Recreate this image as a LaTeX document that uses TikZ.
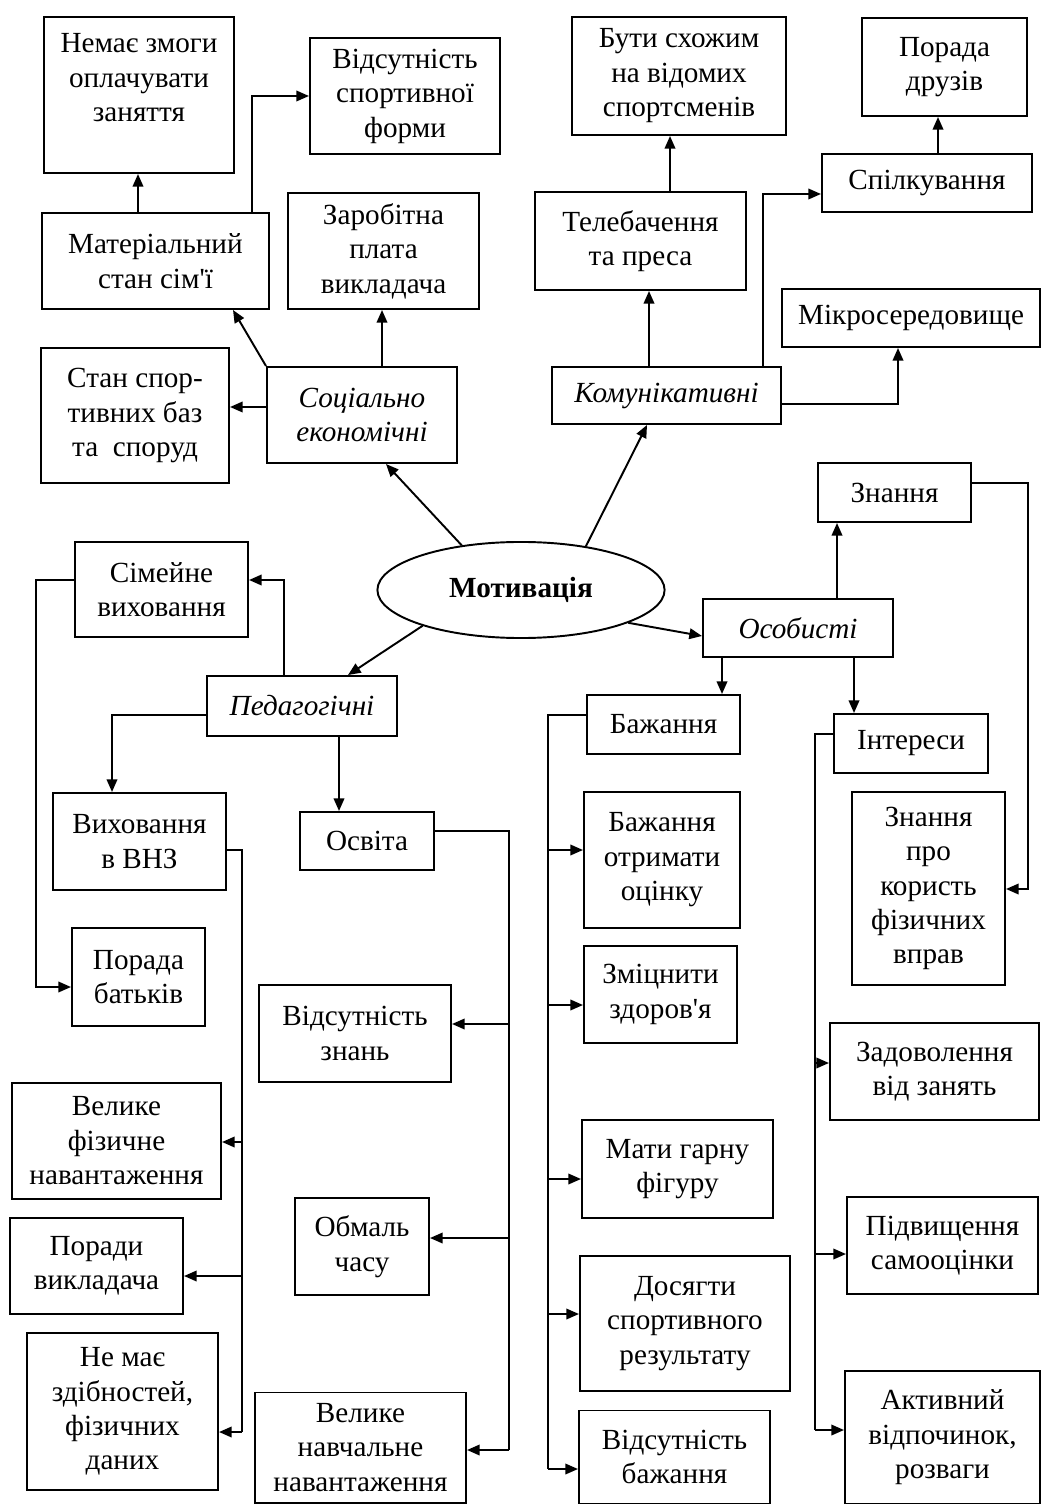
\documentclass[tikz,border=0pt]{standalone}
\usepackage{fontspec}
\setmainfont{Liberation Serif}[Ligatures=TeXOff]
\usetikzlibrary{arrows.meta,shapes.geometric}
\begin{document}
\begin{tikzpicture}[>={Triangle[length=3.6pt,width=3pt]},x=0.01cm,y=-0.01cm,line width=0.55pt,
	box/.style={draw,align=center,inner sep=0pt,font=\fontsize{8.3}{9.8}\selectfont},
	group/.style={box,font=\fontsize{8.3}{9.8}\selectfont\itshape}]
	\useasboundingbox (0,0) rectangle (1041,1504);
	% centre
	\node[draw,ellipse,inner sep=0pt,minimum width=2.87cm,minimum height=0.96cm,font=\fontsize{8.3}{9.8}\selectfont\bfseries] (mot) at (521,590) {Мотивація};
	% groups
	\node[group,minimum width=1.90cm,minimum height=0.96cm] (soc) at (362,415) {Соціально\\економічні};
	\node[group,minimum width=2.29cm,minimum height=0.57cm] (kom) at (666.5,395.5) {Комунікативні};
	\node[group,minimum width=1.90cm,minimum height=0.60cm] (ped) at (302,706) {Педагогічні};
	\node[group,minimum width=1.90cm,minimum height=0.58cm] (osob) at (798,628) {Особисті};
	% socio-economic
	\node[box,minimum width=1.90cm,minimum height=1.56cm] (nem) at (139,95) {Немає змоги\\оплачувати\\заняття\\ };
	\node[box,minimum width=1.90cm,minimum height=1.16cm] (vids) at (405,96) {Відсутність\\спортивної\\форми};
	\node[box,minimum width=2.27cm,minimum height=0.96cm] (mat) at (155.5,261) {Матеріальний\\стан сім'ї};
	\node[box,minimum width=1.91cm,minimum height=1.16cm] (zar) at (383.5,251) {Заробітна\\плата\\викладача};
	\node[box,minimum width=1.88cm,minimum height=1.35cm] (stan) at (135,415.5) {Стан спор-\\тивних баз\\та~ споруд};
	% communicative
	\node[box,minimum width=2.14cm,minimum height=1.18cm] (but) at (679,76) {Бути схожим\\на відомих\\спортсменів};
	\node[box,minimum width=1.65cm,minimum height=0.98cm] (por) at (944.5,67) {Порада\\друзів};
	\node[box,minimum width=2.11cm,minimum height=0.98cm] (tel) at (640.5,241) {Телебачення\\та преса};
	\node[box,minimum width=2.10cm,minimum height=0.58cm] (spil) at (927,183) {Спілкування};
	\node[box,minimum width=2.58cm,minimum height=0.58cm] (mikr) at (911,318) {Мікросередовище};
	% pedagogical
	\node[box,minimum width=1.73cm,minimum height=0.95cm] (sim) at (161.5,589.5) {Сімейне\\виховання};
	\node[box,minimum width=1.73cm,minimum height=0.97cm] (vnz) at (139.5,841.5) {Виховання\\в ВНЗ};
	\node[box,minimum width=1.34cm,minimum height=0.58cm] (osv) at (367,841) {Освіта};
	\node[box,minimum width=1.33cm,minimum height=0.98cm] (bat) at (138.5,977) {Порада\\батьків};
	\node[box,minimum width=1.92cm,minimum height=0.97cm] (vzn) at (355,1033.5) {Відсутність\\знань};
	\node[box,minimum width=2.09cm,minimum height=1.16cm] (vfn) at (116.5,1141) {Велике\\фізичне\\навантаження};
	\node[box,minimum width=1.73cm,minimum height=0.96cm] (pvk) at (96.5,1266) {Поради\\викладача};
	\node[box,minimum width=1.91cm,minimum height=1.57cm] (nzd) at (122.5,1411.5) {Не має\\здібностей,\\фізичних\\даних};
	\node[box,minimum width=1.34cm,minimum height=0.97cm] (obm) at (362,1246.5) {Обмаль\\часу};
	\node[box,minimum width=2.11cm,minimum height=1.10cm] (vnn) at (360.5,1447.5) {Велике\\навчальне\\навантаження};
	% personal
	\node[box,minimum width=1.53cm,minimum height=0.59cm] (zn) at (894.5,492.5) {Знання};
	\node[box,minimum width=1.53cm,minimum height=0.59cm] (baz) at (663.5,724.5) {Бажання};
	\node[box,minimum width=1.54cm,minimum height=0.59cm] (int) at (911,743.5) {Інтереси};
	\node[box,minimum width=1.53cm,minimum height=1.93cm] (znk) at (928.5,888.5) {Знання\\про\\користь\\фізичних\\вправ};
	\node[box,minimum width=1.56cm,minimum height=1.36cm] (bo) at (662,860) {Бажання\\отримати\\оцінку};
	\node[box,minimum width=1.53cm,minimum height=0.97cm] (zz) at (660.5,994.5) {Зміцнити\\здоров'я};
	\node[box,minimum width=1.91cm,minimum height=0.98cm] (mg) at (677.5,1169) {Мати гарну\\фігуру};
	\node[box,minimum width=2.10cm,minimum height=1.35cm] (ds) at (685,1323.5) {Досягти\\спортивного\\результату};
	\node[box,minimum width=1.91cm,minimum height=0.93cm] (vb) at (674.5,1457) {Відсутність\\бажання};
	\node[box,minimum width=2.09cm,minimum height=0.97cm] (zvz) at (934.5,1071.5) {Задоволення\\від занять};
	\node[box,minimum width=1.91cm,minimum height=0.97cm] (pid) at (942.5,1245.5) {Підвищення\\самооцінки};
	\node[box,minimum width=1.95cm,minimum height=1.33cm] (akt) at (942.5,1437.5) {Активний\\відпочинок,\\розваги};
	% from the centre
	\draw[->] (mot.143) -- (soc.south -| 386,0);
	\draw[->] (mot.34) -- (kom.south -| 647,0);
	\draw[->] (mot.200) -- (ped.north -| 348,0);
	\draw[->] (mot.343) -- (osob.west |- 0,636);
	% socio-economic links
	\draw[->] (mat.north -| 138,0) -- (nem.south -| 138,0);
	\draw[->] (mat.north -| 252,0) |- (vids.west);
	\draw[->] (soc.north west) -- (mat.south -| 233,0);
	\draw[->] (soc.north -| 382,0) -- (zar.south -| 382,0);
	\draw[->] (soc.west |- 0,407) -- (stan.east |- 0,407);
	% communicative links
	\draw[->] (kom.north -| 649,0) -- (tel.south -| 649,0);
	\draw[->] (tel.north -| 670,0) -- (but.south -| 670,0);
	\draw[->] (kom.north -| 763,0) |- (spil.west |- 0,194);
	\draw[->] (spil.north -| 938,0) -- (por.south -| 938,0);
	\draw[->] (kom.east |- 0,404) -| (mikr.south -| 898,0);
	% pedagogical links
	\draw[->] (ped.north -| 284,0) |- (sim.east |- 0,580);
	\draw[->] (ped.west |- 0,715) -| (vnz.north -| 112,0);
	\draw[->] (ped.south -| 339,0) -- (osv.north -| 339,0);
	\draw[->] (sim.west |- 0,580) -| (36,987) -- (bat.west |- 0,987);
	\draw (vnz.east |- 0,850) -| (242,1432);
	\foreach \n/\y in {vfn/1142,pvk/1276,nzd/1432}
	\draw[->] (242,\y) -- (\n.east |- 0,\y);
	\draw (osv.east |- 0,831) -| (509,1450);
	\foreach \n/\y in {vzn/1024,obm/1238,vnn/1450}
	\draw[->] (509,\y) -- (\n.east |- 0,\y);
	% personal links
	\draw[->] (osob.north -| 837,0) -- (zn.south -| 837,0);
	\draw[->] (osob.south -| 722,0) -- (baz.north -| 722,0);
	\draw[->] (osob.south -| 854,0) -- (int.north -| 854,0);
	\draw[->] (zn.east |- 0,483) -| (1028,889) -- (znk.east |- 0,889);
	\draw (baz.west |- 0,715) -| (548,1469);
	\foreach \n/\y in {bo/850,zz/1005,mg/1179,ds/1314,vb/1469}
	\draw[->] (548,\y) -- (\n.west |- 0,\y);
	\draw (int.west |- 0,734) -| (815,1430);
	\foreach \n/\y in {zvz/1063,pid/1254,akt/1430}
	\draw[->] (815,\y) -- (\n.west |- 0,\y);
\end{tikzpicture}
\end{document}
